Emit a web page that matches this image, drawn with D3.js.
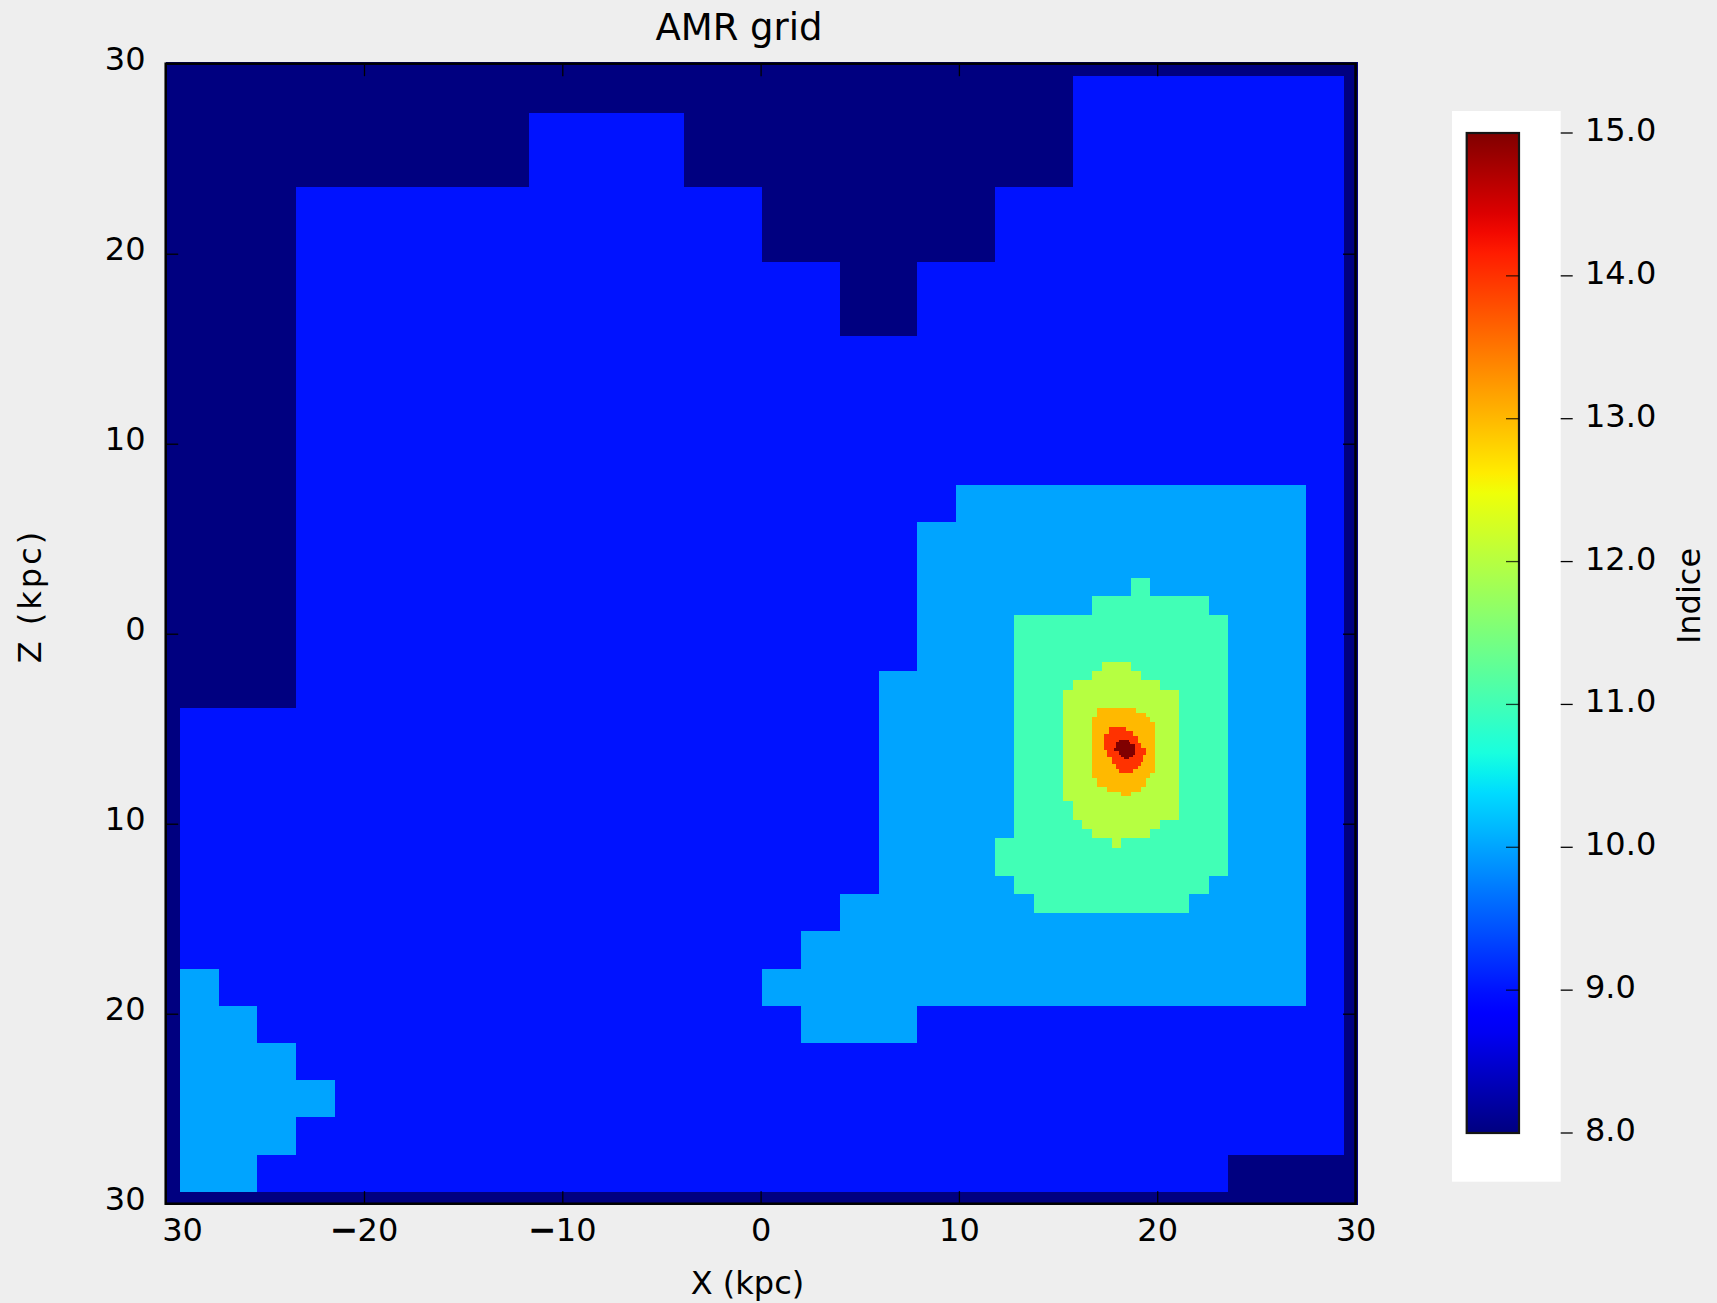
<!DOCTYPE html>
<html>
<head>
<meta charset="utf-8">
<script src="https://cdn.jsdelivr.net/npm/d3@7"></script>
<style>
  html, body { margin: 0; padding: 0; background: #eeeeee; }
  svg { display: block; font-family: "DejaVu Sans", sans-serif; }
</style>
</head>
<body>
<svg id="chart" width="1717" height="1303"></svg>
<script>
// ---- data -------------------------------------------------------------
// AMR refinement levels shown by the colour scale
const levels = [8, 9, 10, 11, 12, 13, 14, 15];

// axis ticks (kpc) and the labels printed next to them
const xTicks = [-30, -20, -10, 0, 10, 20, 30];
const xTickLabels = ["30", "\u221220", "\u221210", "0", "10", "20", "30"];
const zTicks = [30, 20, 10, 0, -10, -20, -30];
const zTickLabels = ["30", "20", "10", "0", "10", "20", "30"];
const colorbarTicks = [8, 9, 10, 11, 12, 13, 14, 15];
const colorbarTickLabels = ["8.0", "9.0", "10.0", "11.0", "12.0", "13.0", "14.0", "15.0"];

// Outlines of the refined regions, vertices as [x, z] in kpc.
// Everything outside level9Region stays at the base level 8.
const level9Region = [
  [-29.297, -29.297], [-29.297, -3.906], [-23.438, -3.906], [-23.438, 23.438],
  [-11.719, 23.438], [-11.719, 27.344], [-3.906, 27.344], [-3.906, 23.438],
  [0, 23.438], [0, 19.531], [3.906, 19.531], [3.906, 15.625],
  [7.813, 15.625], [7.813, 19.531], [11.719, 19.531], [11.719, 23.438],
  [15.625, 23.438], [15.625, 29.297], [29.297, 29.297], [29.297, -27.344],
  [23.438, -27.344], [23.438, -29.297]
];
const level10Regions = [
  [
    [-29.297, -17.578], [-27.344, -17.578], [-27.344, -19.531], [-25.391, -19.531],
    [-25.391, -21.484], [-23.438, -21.484], [-23.438, -23.438], [-21.484, -23.438],
    [-21.484, -25.391], [-23.438, -25.391], [-23.438, -27.344], [-25.391, -27.344],
    [-25.391, -29.297], [-29.297, -29.297]
  ],
  [
    [9.766, 7.813], [27.344, 7.813], [27.344, -19.531], [7.813, -19.531],
    [7.813, -21.484], [1.953, -21.484], [1.953, -19.531], [0, -19.531],
    [0, -17.578], [1.953, -17.578], [1.953, -15.625], [3.906, -15.625],
    [3.906, -13.672], [5.859, -13.672], [5.859, -1.953], [7.813, -1.953],
    [7.813, 5.859], [9.766, 5.859]
  ]
];
const level11Region = [
  [12.695, 0.977], [16.602, 0.977], [16.602, 1.953], [18.555, 1.953],
  [18.555, 2.930], [19.531, 2.930], [19.531, 1.953], [22.461, 1.953],
  [22.461, 0.977], [23.438, 0.977], [23.438, -12.695], [22.461, -12.695],
  [22.461, -13.672], [21.484, -13.672], [21.484, -14.648], [13.672, -14.648],
  [13.672, -13.672], [12.695, -13.672], [12.695, -12.695], [11.719, -12.695],
  [11.719, -10.742], [12.695, -10.742]
];
const level12Region = [
  [17.090, -1.465], [18.555, -1.465], [18.555, -1.953], [19.043, -1.953],
  [19.043, -2.441], [20.020, -2.441], [20.020, -2.930], [20.996, -2.930],
  [20.996, -9.766], [20.020, -9.766], [20.020, -10.254], [19.531, -10.254],
  [19.531, -10.742], [18.066, -10.742], [18.066, -11.230], [17.578, -11.230],
  [17.578, -10.742], [16.602, -10.742], [16.602, -10.254], [16.113, -10.254],
  [16.113, -9.766], [15.625, -9.766], [15.625, -8.789], [15.137, -8.789],
  [15.137, -2.930], [15.625, -2.930], [15.625, -2.441], [16.602, -2.441],
  [16.602, -1.953], [17.090, -1.953]
];
const level13Region = [
  [16.846, -3.906], [18.799, -3.906], [18.799, -4.150], [19.287, -4.150],
  [19.287, -4.395], [19.531, -4.395], [19.531, -4.639], [19.775, -4.639],
  [19.775, -7.324], [19.531, -7.324], [19.531, -7.568], [19.287, -7.568],
  [19.287, -8.057], [19.043, -8.057], [19.043, -8.301], [18.555, -8.301],
  [18.555, -8.545], [18.066, -8.545], [18.066, -8.301], [17.334, -8.301],
  [17.334, -8.057], [16.846, -8.057], [16.846, -7.568], [16.602, -7.568],
  [16.602, -4.395], [16.846, -4.395]
];
const level14Region = [
  [17.456, -4.883], [18.311, -4.883], [18.311, -5.127], [18.677, -5.127],
  [18.677, -5.371], [18.921, -5.371], [18.921, -5.737], [19.043, -5.737],
  [19.043, -5.981], [19.287, -5.981], [19.287, -6.348], [19.165, -6.348],
  [19.165, -6.714], [19.043, -6.714], [19.043, -6.958], [18.921, -6.958],
  [18.921, -7.080], [18.677, -7.080], [18.677, -7.324], [17.944, -7.324],
  [17.944, -7.080], [17.822, -7.080], [17.822, -6.836], [17.578, -6.836],
  [17.578, -6.470], [17.334, -6.470], [17.334, -6.104], [17.212, -6.104],
  [17.212, -5.249], [17.456, -5.249]
];
const level15Region = [
  [17.944, -5.554], [18.433, -5.554], [18.433, -5.676], [18.494, -5.676],
  [18.494, -5.798], [18.738, -5.798], [18.738, -6.348], [18.677, -6.348],
  [18.677, -6.470], [18.433, -6.470], [18.433, -6.592], [18.188, -6.592],
  [18.188, -6.470], [18.066, -6.470], [18.066, -6.348], [17.944, -6.348],
  [17.944, -6.165], [17.700, -6.165], [17.700, -5.981], [17.822, -5.981],
  [17.822, -5.676], [17.944, -5.676]
];

// regions painted from coarse to fine, each over the previous one
const regionLayers = [
  { level: 9, rings: [level9Region] },
  { level: 10, rings: level10Regions },
  { level: 11, rings: [level11Region] },
  { level: 12, rings: [level12Region] },
  { level: 13, rings: [level13Region] },
  { level: 14, rings: [level14Region] },
  { level: 15, rings: [level15Region] }
];

// ---- colour map (matplotlib "jet") -----------------------------------
const jetR = d3.scaleLinear().domain([0, 0.35, 0.66, 0.89, 1]).range([0, 0, 1, 1, 0.5]).clamp(true);
const jetG = d3.scaleLinear().domain([0, 0.125, 0.375, 0.64, 0.91, 1]).range([0, 0, 1, 1, 0, 0]).clamp(true);
const jetB = d3.scaleLinear().domain([0, 0.11, 0.34, 0.65, 1]).range([0.5, 1, 1, 0, 0]).clamp(true);
const jet = t => d3.rgb(255 * jetR(t), 255 * jetG(t), 255 * jetB(t)).formatHex();
const levelToT = d3.scaleLinear().domain(d3.extent(levels)).range([0, 1]);
const levelColor = lv => jet(levelToT(lv));

// ---- layout -----------------------------------------------------------
const svg = d3.select("#chart");
const plot = { left: 165.7, right: 1355.5, top: 63.7, bottom: 1203.7 };
const x = d3.scaleLinear().domain([-30, 30]).range([plot.left, plot.right]);
const z = d3.scaleLinear().domain([-30, 30]).range([plot.bottom, plot.top]);
// the raster is placed with an extent slightly wider than the axes frame
const ix = d3.scaleLinear().domain([-30, 30]).range([x(-30), x(30.15)]);
const iz = d3.scaleLinear().domain([-30, 30]).range([z(-30.08), z(30.08)]);

const gMap = svg.append("g").attr("shape-rendering", "crispEdges");
gMap.append("rect")
  .attr("x", ix(-30)).attr("y", iz(30))
  .attr("width", ix(30) - ix(-30)).attr("height", iz(-30) - iz(30))
  .attr("fill", levelColor(levels[0]));

const ringPath = d3.line().x(d => ix(d[0])).y(d => iz(d[1]));
regionLayers.forEach(layer => {
  gMap.selectAll(null)
    .data(layer.rings)
    .join("path")
    .attr("d", d => ringPath(d) + "Z")
    .attr("fill", levelColor(layer.level));
});

// ---- axes --------------------------------------------------------------
const tickLen = 12.5;
const fontSize = 32;

const xAxis = svg.append("g")
  .attr("transform", `translate(0,${plot.bottom})`)
  .call(d3.axisBottom(x).tickValues(xTicks).tickSize(-tickLen).tickPadding(14.6)
    .tickFormat((d, i) => xTickLabels[i]));
const zAxis = svg.append("g")
  .attr("transform", `translate(${plot.left},0)`)
  .call(d3.axisLeft(z).tickValues(zTicks).tickSize(-tickLen).tickPadding(20.2)
    .tickFormat((d, i) => zTickLabels[i]));
const xAxisTop = svg.append("g")
  .attr("transform", `translate(0,${plot.top})`)
  .call(d3.axisTop(x).tickValues(xTicks).tickSize(-tickLen).tickFormat(""));
const zAxisRight = svg.append("g")
  .attr("transform", `translate(${plot.right},0)`)
  .call(d3.axisRight(z).tickValues(zTicks).tickSize(-tickLen).tickFormat(""));

[xAxis, zAxis, xAxisTop, zAxisRight].forEach(g => {
  g.select(".domain").remove();
  g.selectAll(".tick line").attr("stroke", "#000").attr("stroke-width", 1.3);
  g.selectAll(".tick text")
    .attr("fill", "#000")
    .style("font-family", "'DejaVu Sans', sans-serif")
    .style("font-size", fontSize + "px");
});
// first x label sits to the right of its tick
xAxis.selectAll(".tick text").filter((d, i) => i === 0)
  .attr("text-anchor", "start").attr("x", -4);
zAxis.selectAll(".tick text").attr("dy", "5.6px");

// heavier minus sign on the negative x labels
xAxis.selectAll(".tick text").each(function () {
  const t = d3.select(this);
  const s = t.text();
  if (s.startsWith("\u2212")) {
    t.text(null);
    t.append("tspan").attr("stroke", "#000").attr("stroke-width", 1.3).text("\u2212");
    t.append("tspan").text(s.slice(1));
  }
});

// frame
svg.append("rect")
  .attr("x", plot.left).attr("y", plot.top)
  .attr("width", plot.right - plot.left).attr("height", plot.bottom - plot.top)
  .attr("fill", "none").attr("stroke", "#000").attr("stroke-width", 2.5);

// titles
svg.append("text").attr("x", 739).attr("y", 40)
  .attr("text-anchor", "middle").style("font-size", "37px").text("AMR grid");
svg.append("text").attr("x", 747.5).attr("y", 1294)
  .attr("text-anchor", "middle").style("font-size", fontSize + "px").text("X (kpc)");
svg.append("text").attr("transform", "translate(41,596) rotate(-90)")
  .attr("text-anchor", "middle").style("font-size", fontSize + "px")
  .style("letter-spacing", "3px").text("Z (kpc)");

// ---- colour bar --------------------------------------------------------
const cbBox = { left: 1452, right: 1560.7, top: 111, bottom: 1181.7 };
const cbBar = { left: 1466.7, right: 1519 };
const cb = d3.scaleLinear().domain(d3.extent(levels)).range([1133, 133]);

svg.append("rect")
  .attr("x", cbBox.left).attr("y", cbBox.top)
  .attr("width", cbBox.right - cbBox.left).attr("height", cbBox.bottom - cbBox.top)
  .attr("fill", "#ffffff");

const grad = svg.append("defs").append("linearGradient")
  .attr("id", "jetGrad").attr("x1", 0).attr("y1", 1).attr("x2", 0).attr("y2", 0);
grad.selectAll("stop")
  .data(d3.range(0, 1.0001, 0.02))
  .join("stop")
  .attr("offset", d => d)
  .attr("stop-color", d => jet(d));

const cbLo = d3.min(levels), cbHi = d3.max(levels);
svg.append("rect")
  .attr("x", cbBar.left).attr("y", cb(cbHi))
  .attr("width", cbBar.right - cbBar.left).attr("height", cb(cbLo) - cb(cbHi))
  .attr("fill", "url(#jetGrad)")
  .attr("stroke", "#151515").attr("stroke-width", 2.2);

// inner ticks on the bar
svg.append("g").selectAll("line")
  .data(colorbarTicks.slice(1, -1))
  .join("line")
  .attr("x1", cbBar.right - 13).attr("x2", cbBar.right)
  .attr("y1", d => cb(d)).attr("y2", d => cb(d))
  .attr("stroke", "#000").attr("stroke-opacity", 0.75).attr("stroke-width", 1.3);

// outer ticks and labels
const cbAxis = svg.append("g");
cbAxis.selectAll("line")
  .data(colorbarTicks)
  .join("line")
  .attr("x1", cbBox.right).attr("x2", cbBox.right + 12)
  .attr("y1", d => cb(d)).attr("y2", d => cb(d))
  .attr("stroke", "#000").attr("stroke-width", 1.3);
cbAxis.selectAll("text")
  .data(colorbarTicks)
  .join("text")
  .attr("x", 1585).attr("y", d => cb(d) + 8)
  .style("font-size", fontSize + "px")
  .text((d, i) => colorbarTickLabels[i]);

svg.append("text").attr("transform", "translate(1700,596) rotate(-90)")
  .attr("text-anchor", "middle").style("font-size", fontSize + "px").text("Indice");
</script>
</body>
</html>
